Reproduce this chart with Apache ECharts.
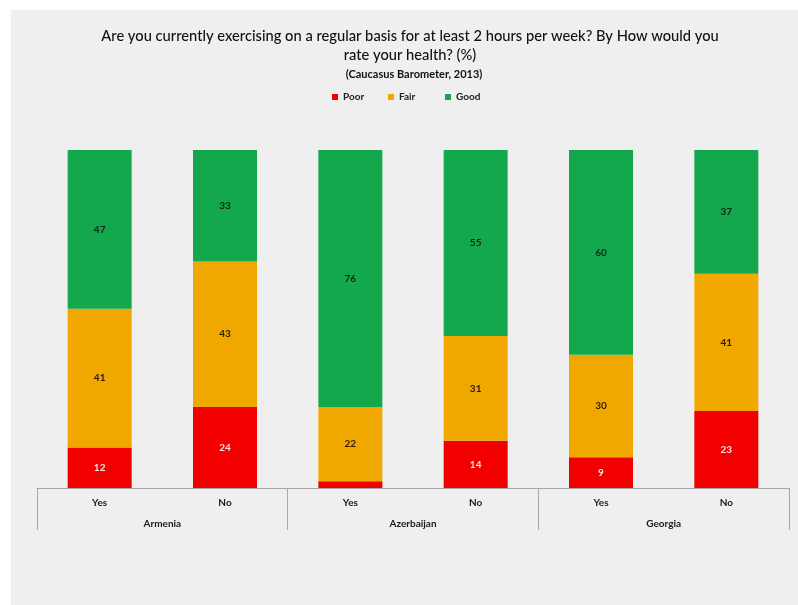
<!DOCTYPE html>
<html>
<head>
<meta charset="utf-8">
<script src="https://cdn.jsdelivr.net/npm/echarts@6/dist/echarts.min.js"></script>
<style>
  html, body { margin:0; padding:0; background:#ffffff; width:798px; height:605px; overflow:hidden; }
  #chart { position:absolute; left:11px; top:10px; width:787px; height:595px; background:#f0efef; }
</style>
</head>
<body>
<div id="chart"></div>
<script>
const answers = ['Yes', 'No', 'Yes', 'No', 'Yes', 'No'];
const countries = ['Armenia', 'Azerbaijan', 'Georgia'];
const poor = [12, 24, 2, 14, 9, 23];
const fair = [41, 43, 22, 31, 30, 41];
const good = [47, 33, 76, 55, 60, 37];
const seriesNames = ['Poor', 'Fair', 'Good'];
const colors = ['#f20000', '#f0a800', '#14a84c'];

const totals = answers.map((_, i) => poor[i] + fair[i] + good[i]);
function toItems(arr, showMin) {
  return arr.map((v, i) => ({
    value: v / totals[i] * 100,
    raw: v,
    label: { show: v >= showMin }
  }));
}

const chart = echarts.init(document.getElementById('chart'), null, { renderer: 'canvas' });
const fontFamily = 'Lato, "Open Sans", sans-serif';
const labelColors = ['#fbe3e3', '#2a1a10', '#10261a'];

const series = [poor, fair, good].map((arr, k) => ({
  name: seriesNames[k],
  type: 'bar',
  stack: 'total',
  barWidth: 64,
  itemStyle: { color: colors[k] },
  label: {
    show: true,
    position: 'inside',
    formatter: p => p.data.raw,
    color: labelColors[k],
    fontSize: 10,
    fontWeight: 'bold',
    fontFamily: fontFamily
  },
  data: toItems(arr, 5)
}));

const legendLefts = [316, 372, 429];
const legends = seriesNames.map((n, k) => ({
  data: [n],
  left: legendLefts[k],
  top: 77,
  itemWidth: 6,
  itemHeight: 6,
  icon: 'rect',
  textStyle: { fontSize: 10, fontWeight: 'bold', color: '#222', fontFamily: fontFamily }
}));

chart.setOption({
  animation: false,
  backgroundColor: '#f0efef',
  title: [{
    text: 'Are you currently exercising on a regular basis for at least 2 hours per week? By How would you\nrate your health? (%)',
    left: 394,
    top: 12,
    textAlign: 'center',
    textStyle: { fontSize: 14.7, fontWeight: 500, color: '#111', fontFamily: fontFamily, lineHeight: 19 }
  }, {
    text: '(Caucasus Barometer, 2013)',
    left: 398,
    top: 54,
    textAlign: 'center',
    textStyle: { fontSize: 11, fontWeight: 'bold', color: '#111', fontFamily: fontFamily }
  }],
  legend: legends,
  grid: { left: 26, right: 9, top: 140, bottom: 117 },
  xAxis: [{
    type: 'category',
    data: answers,
    position: 'bottom',
    axisLine: { show: true, lineStyle: { color: '#a8a8a8', width: 1 } },
    axisTick: { show: false },
    axisLabel: { margin: 10, fontSize: 10, fontWeight: 'bold', color: '#1a1a1a', fontFamily: fontFamily }
  }, {
    type: 'category',
    data: countries,
    position: 'bottom',
    axisLine: { show: false },
    axisTick: { show: true, length: 42, alignWithLabel: false, lineStyle: { color: '#a8a8a8', width: 1 } },
    axisLabel: { margin: 31, fontSize: 10, fontWeight: 'bold', color: '#1a1a1a', fontFamily: fontFamily }
  }],
  yAxis: {
    type: 'value',
    min: 0,
    max: 100,
    show: false
  },
  series: series
});
</script>
</body>
</html>
